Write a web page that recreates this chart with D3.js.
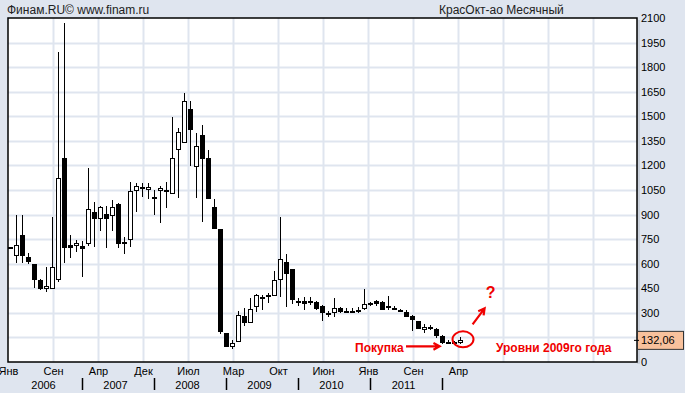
<!DOCTYPE html>
<html>
<head>
<meta charset="utf-8">
<script src="https://cdn.jsdelivr.net/npm/d3@7/dist/d3.min.js"></script>
<style>
body { margin: 0; background: #dfe5ef; }
svg { display: block; font-family: "Liberation Sans", Arial, sans-serif; }
</style>
</head>
<body>
<svg id="chart" width="685" height="393"></svg>
<script>
// monthly candles, Jan 2006 .. Apr 2012
let opens = [700, 653, 775, 641, 598, 500, 450, 450, 505, 1244, 715, 715,
    710, 724, 914, 877, 901, 895, 965, 728, 749, 1048, 1066, 1054,
    1005, 1048, 1048, 1030, 1298, 1341, 1543, 1198, 1386, 1243, 944, 810,
    175, 93, 128, 281, 246, 338, 390, 408, 407, 507, 611, 568,
    370, 372, 366, 368, 342, 297, 301, 328, 310, 311, 313, 325,
    355, 372, 364, 342, 330, 320, 307, 281, 250, 200, 214, 200,
    159, 120, 120, 122];
let highs = [705, 897, 897, 665, 600, 505, 578, 885, 1890, 2068, 775, 745,
    740, 1182, 979, 955, 953, 989, 970, 765, 1099, 1095, 1091, 1095,
    1050, 1075, 1100, 1494, 1426, 1640, 1593, 1396, 1447, 1294, 995, 812,
    180, 134, 311, 332, 389, 413, 409, 419, 556, 887, 659, 570,
    389, 395, 395, 372, 345, 310, 389, 338, 328, 328, 338, 444,
    368, 378, 370, 403, 342, 325, 315, 284, 252, 230, 226, 205,
    162, 134, 126, 150];
let lows = [690, 602, 602, 600, 454, 437, 425, 448, 490, 602, 633, 673,
    521, 710, 700, 802, 698, 802, 694, 657, 704, 918, 1005, 993,
    897, 850, 942, 1030, 999, 1335, 1198, 999, 857, 999, 814, 171,
    90, 77, 125, 222, 236, 307, 317, 358, 405, 399, 338, 354,
    342, 317, 350, 317, 252, 277, 277, 301, 297, 301, 297, 317,
    340, 340, 317, 317, 320, 312, 277, 189, 205, 179, 195, 148,
    108, 115, 108, 110];
let closes = [695, 714, 653, 618, 505, 454, 462, 578, 1121, 700, 705, 725,
    700, 932, 877, 946, 877, 946, 728, 733, 1042, 1072, 1068, 1066,
    1000, 1062, 1052, 1243, 1402, 1591, 1421, 1319, 1247, 999, 814, 185,
    93, 114, 285, 246, 326, 407, 395, 400, 501, 627, 545, 383,
    366, 362, 370, 330, 307, 300, 328, 311, 312, 314, 315, 352,
    358, 362, 320, 336, 328, 317, 281, 261, 209, 214, 207, 165,
    120, 122, 117, 132.06];

let monthTicks = ["Янв", "Сен", "Апр", "Дек", "Июл", "Мар", "Окт", "Июн", "Янв", "Сен", "Апр"];
let years = ["2006", "2007", "2008", "2009", "2010", "2011"];
let priceTicks = d3.range(0, 2101, 150);
let lastPrice = closes[closes.length - 1];

let svg = d3.select("#chart");
let plotL = 8, plotR = 637, plotT = 18, plotB = 362;
let red = "#f00000";

// bar index -> pixel, 6px per month
let x = d3.scaleLinear()
    .domain([-1/3, 104.5])
    .range([plotL, plotR]);

let y = d3.scaleLinear()
    .domain([0, 2100])
    .range([plotB, plotT]);

// header texts
svg.append("text")
    .attr("x", 7).attr("y", 14)
    .style("font-size", "12px").style("fill", "#222")
    .text("Финам.RU©  www.finam.ru");
svg.append("text")
    .attr("x", 439).attr("y", 14)
    .style("font-size", "12px").style("fill", "#222")
    .text("КрасОкт-ао Месячный");

// plot background + shadow
svg.append("rect")
    .attr("x", plotR).attr("y", plotT + 2)
    .attr("width", 3).attr("height", plotB - plotT)
    .attr("fill", "#c9d0db");
svg.append("rect")
    .attr("x", plotL).attr("y", plotT)
    .attr("width", plotR - plotL).attr("height", plotB - plotT)
    .attr("fill", "white");

// grid
let gridIdx = d3.range(1, 14).map(k => -1/3 + 7.5 * k);
svg.append("g").selectAll("line")
    .data(gridIdx)
    .join("line")
    .attr("x1", d => Math.round(x(d)) + 0.5)
    .attr("x2", d => Math.round(x(d)) + 0.5)
    .attr("y1", plotT).attr("y2", plotB)
    .style("stroke", "#dfe5ef").style("stroke-width", 2);
svg.append("g").selectAll("line")
    .data(priceTicks.slice(1, -1))
    .join("line")
    .attr("x1", plotL).attr("x2", plotR)
    .attr("y1", d => Math.round(y(d)) + 0.5)
    .attr("y2", d => Math.round(y(d)) + 0.5)
    .style("stroke", "#dfe5ef").style("stroke-width", 2);

// candles
let candles = svg.append("g")
    .attr("shape-rendering", "crispEdges")
    .selectAll("g")
    .data(d3.range(opens.length))
    .join("g");
candles.append("line")
    .attr("x1", i => x(i) + 0.5)
    .attr("x2", i => x(i) + 0.5)
    .attr("y1", i => y(highs[i]))
    .attr("y2", i => y(lows[i]))
    .style("stroke", "black")
    .style("stroke-width", 1);
candles.append("rect")
    .attr("x", i => x(i) - 1.5)
    .attr("y", i => Math.round(y(Math.max(opens[i], closes[i]))) + 0.5)
    .attr("width", 4)
    .attr("height", i => Math.max(1, Math.round(Math.abs(y(opens[i]) - y(closes[i])))))
    .attr("fill", i => closes[i] >= opens[i] ? "white" : "black")
    .attr("stroke", "black")
    .attr("stroke-width", 1);

// plot border
svg.append("rect")
    .attr("x", plotL).attr("y", plotT)
    .attr("width", plotR - plotL).attr("height", plotB - plotT)
    .attr("fill", "none")
    .style("stroke", "black").style("stroke-width", 1.5);

// price axis on the right (labels under the last-price box are hidden)
let shownTicks = priceTicks.filter(d => Math.abs(y(d) - y(lastPrice)) > 12);
svg.append("g").call(d3.axisRight(y).tickValues(shownTicks)
        .tickFormat(d3.format("d")).tickSize(0).tickPadding(4))
    .attr("transform", "translate(" + plotR + ",0)")
    .style("font-family", "Liberation Sans, Arial, sans-serif")
    .style("font-size", "11px")
    .select(".domain").remove();

// last price marker
svg.append("rect")
    .attr("x", plotR + 0.5).attr("y", y(lastPrice) - 9)
    .attr("width", 46).attr("height", 18)
    .attr("fill", "#f8c19c")
    .style("stroke", "#333").style("stroke-width", 1);
svg.append("line")
    .attr("x1", plotR - 3).attr("x2", plotR + 2)
    .attr("y1", y(lastPrice)).attr("y2", y(lastPrice))
    .style("stroke", "black");
svg.append("text")
    .attr("x", plotR + 4).attr("y", y(lastPrice) + 4)
    .style("font-size", "11px")
    .text(d3.format(".2f")(lastPrice).replace(".", ","));

// month axis
let monthIdx = monthTicks.map((d, k) => -1/3 + 7.5 * k);
svg.append("g").call(d3.axisBottom(x).tickValues(monthIdx)
        .tickFormat((d, k) => monthTicks[k]).tickSize(0).tickPadding(4))
    .attr("transform", "translate(0," + (plotB + 1) + ")")
    .style("font-family", "Liberation Sans, Arial, sans-serif")
    .style("font-size", "11px")
    .select(".domain").remove();

// year axis with separators
let yearIdx = years.map((d, k) => 12 * k + 5.5);
svg.append("g").call(d3.axisBottom(x).tickValues(yearIdx)
        .tickFormat((d, k) => years[k]).tickSize(0).tickPadding(4))
    .attr("transform", "translate(0," + (plotB + 15) + ")")
    .style("font-family", "Liberation Sans, Arial, sans-serif")
    .style("font-size", "11px")
    .select(".domain").remove();
svg.append("g").selectAll("line")
    .data(d3.range(1, years.length + 1).map(k => 12 * k))
    .join("line")
    .attr("x1", d => x(d) + 0.5).attr("x2", d => x(d) + 0.5)
    .attr("y1", plotB + 16).attr("y2", plotB + 28)
    .style("stroke", "black").style("stroke-width", 1.5);

// red annotations
function arrow(x1, y1, x2, y2) {
    let a = Math.atan2(y2 - y1, x2 - x1), h = 7;
    let p = d3.path();
    p.moveTo(x1, y1); p.lineTo(x2, y2);
    p.moveTo(x2 - h * Math.cos(a - 0.5), y2 - h * Math.sin(a - 0.5));
    p.lineTo(x2, y2);
    p.lineTo(x2 - h * Math.cos(a + 0.5), y2 - h * Math.sin(a + 0.5));
    svg.append("path").attr("d", p.toString())
        .attr("fill", "none")
        .style("stroke", red).style("stroke-width", 2.2);
}
let last = opens.length - 1;
svg.append("ellipse")
    .attr("cx", x(last) + 3).attr("cy", y(lastPrice) - 1)
    .attr("rx", 10.5).attr("ry", 8)
    .attr("fill", "none")
    .style("stroke", red).style("stroke-width", 2);
svg.append("text")
    .attr("x", x(last - 17.5)).attr("y", y(lastPrice) + 12)
    .style("font-size", "12px").style("font-weight", "bold").style("fill", red)
    .text("Покупка");
arrow(x(last - 9), y(lastPrice) + 6, x(last - 3.4), y(lastPrice) + 6);
svg.append("text")
    .attr("x", x(last + 6)).attr("y", y(lastPrice) + 12)
    .style("font-size", "12px").style("font-weight", "bold").style("fill", red)
    .text("Уровни 2009го года");
arrow(x(last + 2.1), y(lastPrice) - 16, x(last + 4.1), y(lastPrice) - 32);
svg.append("text")
    .attr("x", x(last + 4.3)).attr("y", y(lastPrice) - 42)
    .style("font-size", "16px").style("font-weight", "bold").style("fill", red)
    .text("?");
</script>
</body>
</html>
